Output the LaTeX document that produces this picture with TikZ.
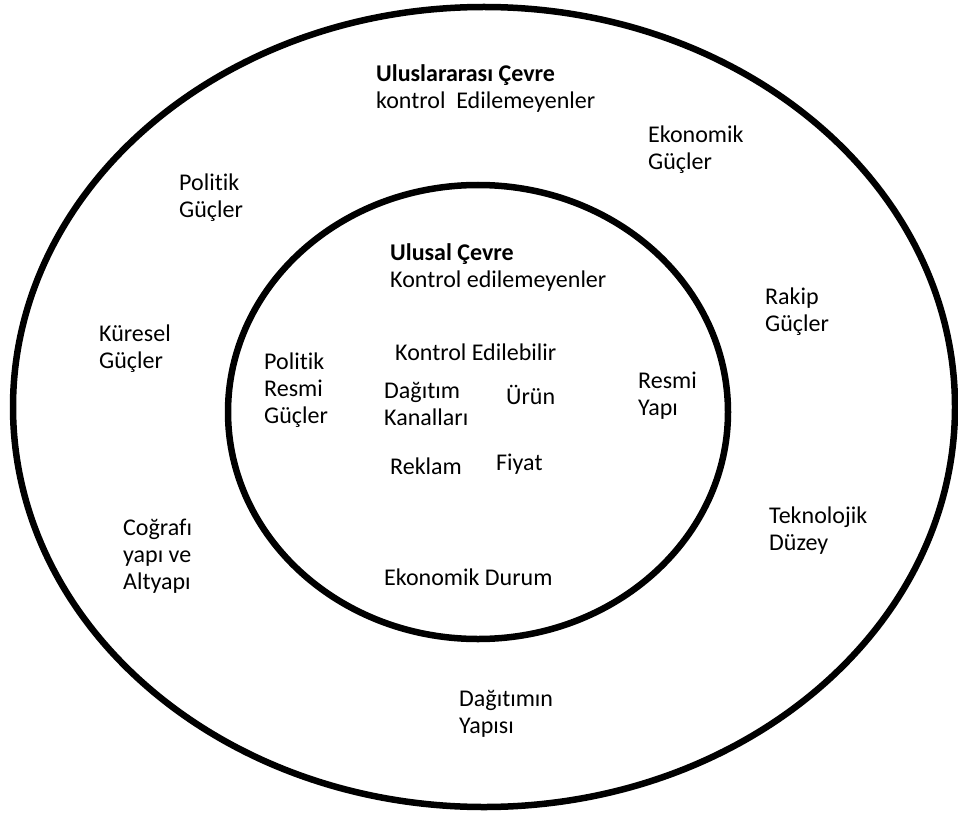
\documentclass[tikz,border=0pt]{standalone}
\usepackage{fontspec}
\setmainfont{Carlito}[Ligatures=CommonOff]
\usetikzlibrary{shapes.geometric}
\begin{document}
\begin{tikzpicture}[x=1pt,y=-1pt,
  lbl/.style={anchor=base west,align=left,inner sep=0pt,font=\fontsize{24}{27}\selectfont},
  ring/.style={draw=black,line width=6.5pt}]
\useasboundingbox (0,0) rectangle (958,813);
\fill[white] (0,0) rectangle (958,813);
\node[ring,ellipse,minimum width=942pt,minimum height=800pt,inner sep=0pt] (outer) at (484,407) {};
\node[ring,ellipse,minimum width=500pt,minimum height=454pt,inner sep=0pt] (inner) at (478,412) {};
% outer ring texts (anchor = baseline of the last line)
\node[lbl] (intl) at (376,109) {\textbf{Uluslararası Çevre}\\kontrol\ \ Edilemeyenler};
\node[lbl] (eko) at (648,170) {Ekonomik\\Güçler};
\node[lbl] (pol) at (179,218) {Politik\\Güçler};
\node[lbl] (rak) at (765,331) {Rakip\\Güçler};
\node[lbl] (kur) at (99,368) {Küresel\\Güçler};
\node[lbl] (tek) at (769,550) {Teknolojik\\Düzey};
\node[lbl] (cog) at (123,589) {Coğrafı\\yapı ve\\Altyapı};
\node[lbl] (dag) at (459,733) {Dağıtımın\\Yapısı};
% inner ring texts
\node[lbl] (nat) at (390,287) {\textbf{Ulusal Çevre}\\Kontrol edilemeyenler};
\node[lbl] (prg) at (264,423) {Politik\\Resmi\\Güçler};
\node[lbl] (ke) at (395,360) {Kontrol Edilebilir};
\node[lbl] (dk) at (384,425) {Dağıtım\\Kanalları};
\node[lbl] (urun) at (506,404) {Ürün};
\node[lbl] (ry) at (638,415) {Resmi\\Yapı};
\node[lbl] (rek) at (390,474) {Reklam};
\node[lbl] (fiy) at (496,470) {Fiyat};
\node[lbl] (ed) at (384,585) {Ekonomik Durum};
\end{tikzpicture}
\end{document}
